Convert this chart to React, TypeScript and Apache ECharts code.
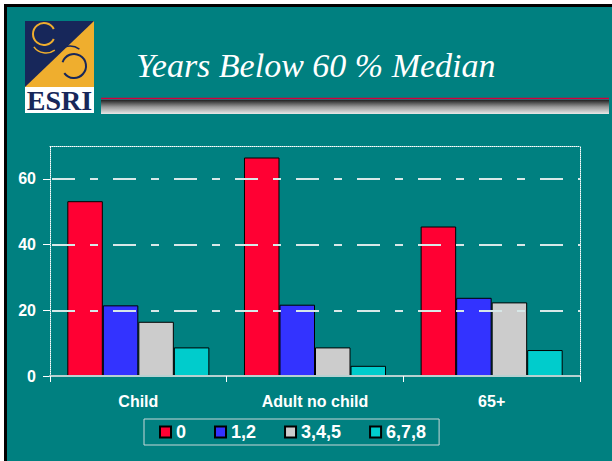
import React, { useEffect, useRef } from "react";
import * as echarts from "echarts";

const categories = ["Child", "Adult no child", "65+"];
const seriesNames = ["0", "1,2", "3,4,5", "6,7,8"];
const years0 = [53.2, 66.5, 45.5];
const years12 = [21.5, 21.7, 23.8];
const years345 = [16.5, 8.7, 22.4];
const years678 = [8.7, 3.1, 7.9];
const yTicks = [0, 20, 40, 60];
const gridValues = [20, 40, 60];
const colors = ["#FF0033", "#3333FF", "#CCCCCC", "#00CCCC"];
const titleText = "Years Below 60 % Median";

export default function App() {
  const ref = useRef<HTMLDivElement>(null);
  useEffect(() => {
    if (!ref.current) return;
    const chart = echarts.init(ref.current, undefined, { renderer: "svg" });
    const values = [years0, years12, years345, years678];
    const sans = "'Liberation Sans', Arial, sans-serif";
    const bars = values.map((d, i) => ({
      name: seriesNames[i],
      type: "bar",
      data: d,
      barGap: "0%",
      barCategoryGap: "19.6%",
      z: 3,
      itemStyle: { color: colors[i], borderColor: "#000", borderWidth: 1 },
    }));
    chart.setOption({
      animation: false,
      backgroundColor: "transparent",
      textStyle: { fontFamily: sans },
      grid: { left: 50, right: 32, top: 146, bottom: 85, containLabel: false },
      legend: {
        left: 144,
        top: 419,
        orient: "horizontal",
        data: seriesNames,
        icon: "rect",
        itemWidth: 11,
        itemHeight: 11,
        itemGap: 28,
        padding: [4, 13, 4, 15],
        borderColor: "#c8d8d8",
        borderWidth: 1,
        textStyle: { color: "#fff", fontWeight: "bold", fontSize: 18, fontFamily: sans },
      },
      xAxis: [
        {
          type: "category",
          data: categories,
          axisLine: { show: true, lineStyle: { color: "#b8d0d0", width: 2 } },
          axisTick: { show: true, length: 6, lineStyle: { color: "#fff" } },
          axisLabel: { color: "#fff", fontWeight: "bold", fontSize: 16, margin: 17, fontFamily: sans },
          splitLine: { show: false },
          z: 4,
        },
        {
          type: "category",
          data: categories,
          position: "top",
          axisLine: { show: true, onZero: false, lineStyle: { color: "#fff", type: "dotted", width: 1 } },
          axisTick: { show: false },
          axisLabel: { show: false },
          splitLine: { show: false },
        },
      ],
      yAxis: [
        {
          type: "value",
          min: 0,
          max: 70,
          interval: 20,
          axisLine: { show: true, lineStyle: { color: "#fff", type: "dotted", width: 1 } },
          axisTick: { show: true, length: 7, customValues: yTicks, lineStyle: { color: "#fff" } },
          axisLabel: { color: "#fff", fontWeight: "bold", fontSize: 16, margin: 14, customValues: yTicks, fontFamily: sans },
          splitLine: { show: false },
        },
        {
          type: "value",
          min: 0,
          max: 70,
          position: "right",
          axisLine: { show: true, onZero: false, lineStyle: { color: "#fff", type: "dotted", width: 1 } },
          axisTick: { show: false },
          axisLabel: { show: false },
          splitLine: { show: false },
        },
      ],
      series: [
        {
          type: "line",
          data: [],
          z: 1,
          silent: true,
          markLine: {
            silent: true,
            symbol: ["none", "none"],
            label: { show: false },
            lineStyle: { color: "#d8e8e8", width: 2, type: [23, 15, 8, 15], dashOffset: 59 },
            emphasis: { disabled: true },
            data: gridValues.map((v) => ({ yAxis: v })),
          },
        },
        ...bars,
      ],
      graphic: [
        {
          type: "group",
          children: [
            { type: "rect", shape: { x: 25, y: 21, width: 69, height: 66 }, style: { fill: "#17275a" } },
            { type: "polygon", shape: { points: [[25, 87], [94, 87], [94, 21]] }, style: { fill: "#EFAE2E" } },
            { type: "arc", shape: { cx: 44, cy: 34, r: 11, startAngle: Math.PI * 0.15, endAngle: Math.PI * 1.85 }, style: { stroke: "#EFAE2E", lineWidth: 2, fill: "none" } },
            { type: "arc", shape: { cx: 46, cy: 38, r: 15, startAngle: Math.PI * 0.3, endAngle: Math.PI * 0.8 }, style: { stroke: "#EFAE2E", lineWidth: 1.5, fill: "none" } },
            { type: "arc", shape: { cx: 74, cy: 66, r: 12, startAngle: Math.PI * 1.1, endAngle: Math.PI * 2.8 }, style: { stroke: "#17275a", lineWidth: 2, fill: "none" } },
            { type: "arc", shape: { cx: 70, cy: 62, r: 16, startAngle: Math.PI * 1.2, endAngle: Math.PI * 1.7 }, style: { stroke: "#17275a", lineWidth: 1.5, fill: "none" } },
            { type: "rect", shape: { x: 25, y: 87, width: 69, height: 26 }, style: { fill: "#ffffff" } },
            { type: "text", x: 59.5, y: 100, style: { text: "ESRI", fill: "#17275a", font: "bold 28px 'Liberation Serif', serif", align: "center", verticalAlign: "middle" } },
          ],
        },
        {
          type: "text",
          x: 136,
          y: 65,
          style: {
            text: titleText,
            fill: "#ffffff",
            font: "italic 34px 'Liberation Serif', 'Times New Roman', serif",
            align: "left",
            verticalAlign: "middle",
            textShadowColor: "rgba(0,0,0,0.75)",
            textShadowOffsetX: 1.5,
            textShadowOffsetY: 1.5,
            textShadowBlur: 0,
          },
        },
        {
          type: "rect",
          shape: { x: 101, y: 100, width: 508, height: 14 },
          style: {
            fill: new echarts.graphic.LinearGradient(0, 0, 0, 1, [
              { offset: 0, color: "#222222" },
              { offset: 0.5, color: "#9a9a9a" },
              { offset: 1, color: "#e8e8e8" },
            ]),
          },
        },
        { type: "line", shape: { x1: 101, y1: 98.5, x2: 609, y2: 98.5 }, style: { stroke: "#D4003A", lineWidth: 1.5 } },
      ],
    });
    return () => chart.dispose();
  }, []);
  return (
    <div style={{ position: "fixed", left: 0, top: 0, width: 612, height: 461, background: "#ffffff", overflow: "hidden" }}>
      <div style={{ position: "absolute", left: 4, top: 4, right: 0, bottom: 0, background: "#000000" }} />
      <div style={{ position: "absolute", left: 7, top: 7, right: 0, bottom: 0, background: "#008080" }} />
      <div ref={ref} style={{ position: "absolute", left: 0, top: 0, width: 612, height: 461 }} />
    </div>
  );
}
